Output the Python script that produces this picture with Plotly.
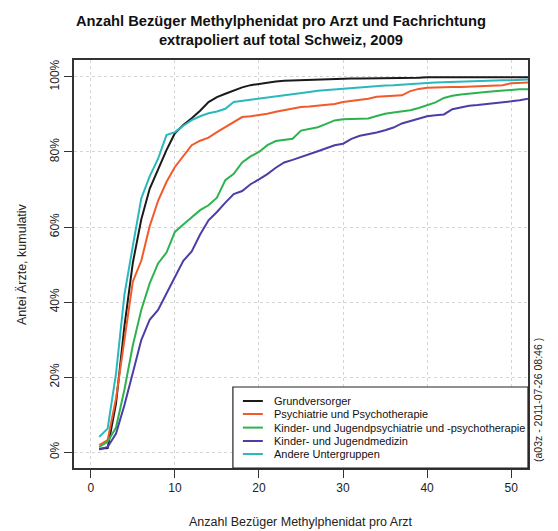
import plotly.graph_objects as go

x_values = list(range(1, 53))

grundversorger = [0.9, 1.1, 13, 33.6, 50.5, 62, 70.2, 75.6, 80.5, 85, 87.2, 89, 91, 93.3, 94.6,
                  95.5, 96.4, 97.2, 97.8, 98.2, 98.5, 98.8, 99, 99.1, 99.2, 99.3, 99.4, 99.5, 99.5, 99.6,
                  99.6, 99.6, 99.6, 99.6, 99.6, 99.7, 99.7, 99.8, 99.8, 99.9, 99.9, 99.9, 99.9, 99.9, 99.9,
                  99.9, 99.9, 99.9, 99.9, 99.9, 99.9, 99.9]
psychiatrie = [1.9, 3.2, 14.4, 30.5, 45.5, 51, 60.2, 67, 72, 76, 79, 81.8, 83, 83.8, 85.3,
               86.7, 88, 89.3, 89.5, 89.8, 90.2, 90.7, 91.2, 91.6, 92, 92.1, 92.3, 92.4, 92.8, 93.3,
               93.6, 93.8, 94.2, 94.7, 94.9, 95, 95.1, 96.2, 96.8, 97.1, 97.2, 97.2, 97.3, 97.3, 97.4,
               97.5, 97.6, 97.7, 97.8, 98.3, 98.5, 98.5]
kjpp = [1.4, 2.8, 6.6, 16.7, 28.5, 37.9, 45, 50.3, 53.2, 58.7, 60.7, 62.5, 64.5, 65.8, 67.8,
        72.5, 74.2, 77.2, 78.8, 80, 81.8, 82.9, 83.2, 83.5, 85.7, 86.2, 86.6, 87.5, 88.4, 88.7,
        88.8, 88.9, 88.9, 89.6, 90.2, 90.5, 90.8, 91.1, 91.7, 92.5, 93.2, 94.4, 95, 95.3, 95.6,
        95.8, 96, 96.2, 96.4, 96.6, 96.7, 96.7]
kinder_jugendmedizin = [0.7, 1.4, 5, 12.6, 21.2, 29.9, 35.3, 37.9, 42.3, 46.8, 51, 53.5, 58, 61.8, 64,
                        66.5, 68.8, 69.6, 71.4, 72.7, 74.1, 75.8, 77.2, 77.9, 78.6, 79.5, 80.2, 81, 81.8, 82.2,
                        83.5, 84.3, 84.7, 85.2, 85.8, 86.5, 87.6, 88.3, 88.9, 89.5, 89.8, 90, 91.4, 91.9, 92.3,
                        92.5, 92.7, 92.9, 93.2, 93.5, 93.8, 94.2]
andere = [4.1, 6.3, 21, 42, 55, 67.6, 73.5, 78.2, 84.5, 85.3, 87, 88.5, 89.5, 90.3, 90.8,
          91.5, 93.3, 93.6, 93.9, 94.2, 94.5, 94.9, 95.2, 95.6, 95.8, 96, 96.3, 96.5, 96.7, 96.9,
          97.1, 97.2, 97.4, 97.6, 97.7, 97.8, 98, 98.1, 98.3, 98.4, 98.5, 98.6, 98.7, 98.7, 98.8,
          98.9, 98.9, 99, 99.1, 99.1, 99.2, 99.3]

series_names = ["Grundversorger", "Psychiatrie und Psychotherapie",
                "Kinder- und Jugendpsychiatrie und -psychotherapie",
                "Kinder- und Jugendmedizin", "Andere Untergruppen"]
series_values = [grundversorger, psychiatrie, kjpp, kinder_jugendmedizin, andere]
series_colors = ["#1a1a1a", "#f25a2a", "#2db34e", "#4a3fa6", "#2ab8bd"]

x_ticks = [0, 10, 20, 30, 40, 50]
y_ticks = [0, 20, 40, 60, 80, 100]
y_tick_labels = ["0%", "20%", "40%", "60%", "80%", "100%"]

font_family = "Liberation Sans, Arial, sans-serif"

fig = go.Figure()
for name, vals, col in zip(series_names, series_values, series_colors):
    fig.add_trace(go.Scatter(x=x_values, y=vals, mode="lines", name=name, showlegend=False,
                             line=dict(color=col, width=2)))

# Legend box drawn in paper coordinates (bottom-right, R style)
shapes = [dict(type="rect", xref="paper", yref="paper", x0=0.350, x1=1.0, y0=0.0, y1=0.1985,
               line=dict(color="#222", width=1.2), fillcolor="white", layer="above")]
annotations = []
row_y = [0.1642, 0.1324, 0.0990, 0.0662, 0.0343]
for name, col, ry in zip(series_names, series_colors, row_y):
    shapes.append(dict(type="line", xref="paper", yref="paper", x0=0.372, x1=0.416, y0=ry, y1=ry,
                       line=dict(color=col, width=2), layer="above"))
    annotations.append(dict(text=name, xref="paper", yref="paper", x=0.436, y=ry,
                            xanchor="left", yanchor="middle", showarrow=False,
                            font=dict(size=11, family=font_family, color="#111")))

annotations += [
    dict(text="<b>Anzahl Bezüger Methylphenidat pro Arzt und Fachrichtung<br>extrapoliert auf total Schweiz, 2009</b>",
         xref="paper", yref="paper", x=(281 - 74) / 454, y=(468 - 30) / 408,
         xanchor="center", yanchor="middle", showarrow=False,
         font=dict(size=14.7, family=font_family, color="#111")),
    dict(text="Anzahl Bezüger Methylphenidat pro Arzt", xref="paper", yref="paper",
         x=0.5, y=-0.132, xanchor="center", yanchor="middle", showarrow=False,
         font=dict(size=12.5)),
    dict(text="Antei Ärzte, kumulativ", xref="paper", yref="paper", x=-0.1145, y=0.5,
         xanchor="center", yanchor="middle", textangle=-90, showarrow=False,
         font=dict(size=12.5)),
    dict(text="(a03z - 2011-07-26 08:46 )", xref="paper", yref="paper", x=1.022, y=0.1667,
         xanchor="center", yanchor="middle", textangle=-90, showarrow=False,
         font=dict(size=10.5)),
]

fig.update_layout(
    width=558, height=531,
    margin=dict(l=74, r=30, t=60, b=63),
    paper_bgcolor="white", plot_bgcolor="white",
    font=dict(family=font_family, size=12, color="#222"),
    showlegend=False,
    xaxis=dict(range=[-2, 52], tickvals=x_ticks, ticks="outside", ticklen=8, tickwidth=1.2,
               tickcolor="#333", showline=True, mirror=True, linecolor="#333", linewidth=1.5,
               showgrid=True, gridcolor="#d4d4d4", griddash="dot", gridwidth=1, zeroline=False,
               tickfont=dict(size=12)),
    yaxis=dict(range=[-4.2, 104.5], tickvals=y_ticks, ticktext=y_tick_labels, ticks="outside",
               ticklen=8, tickwidth=1.2, tickcolor="#333", showline=True, mirror=True,
               linecolor="#333", linewidth=1.5, showgrid=True, gridcolor="#d4d4d4", griddash="dot",
               gridwidth=1, zeroline=False, tickangle=-90, tickfont=dict(size=12)),
    shapes=shapes,
    annotations=annotations,
)

fig.write_html("out.html", config={"displayModeBar": False},
               post_script="document.body.style.margin='0px';")
